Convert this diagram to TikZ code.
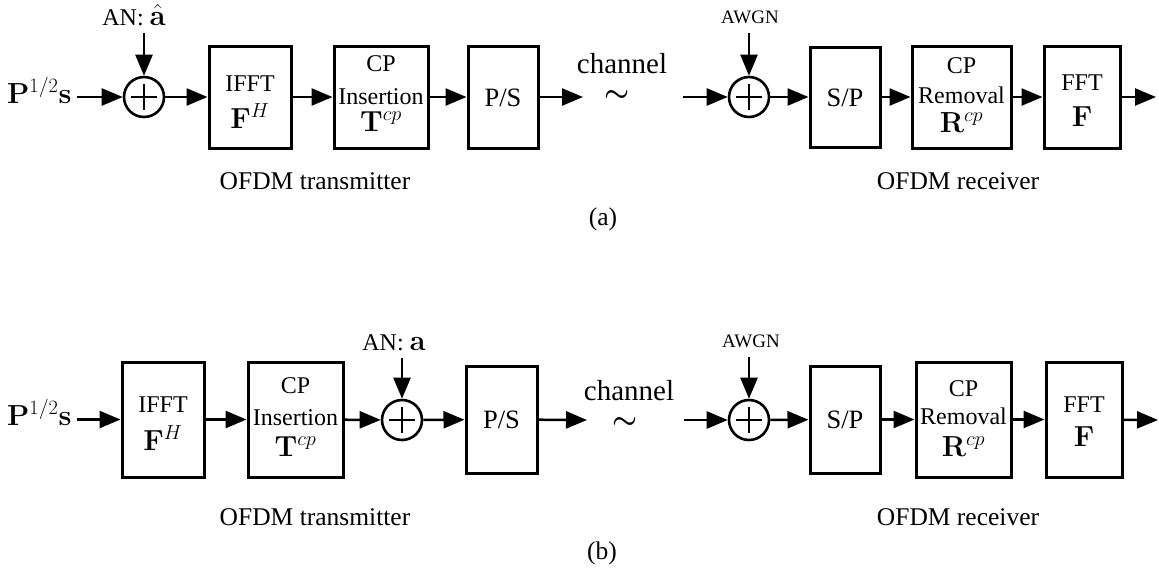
\RequirePackage{fix-cm}
\documentclass[tikz,border=0pt]{standalone}
\usepackage{amsmath}
\usepackage[no-math]{fontspec}
\setmainfont{Liberation Serif}
\usetikzlibrary{arrows.meta}
\tikzset{
  blk/.style={draw, line width=3pt, inner sep=0pt},
  arr/.style={line width=2.5pt, -{Triangle[length=21pt,width=17pt]}},
  sumnode/.style={draw, circle, line width=2.6pt, minimum size=40pt, inner sep=0pt,
    path picture={
      \draw[line width=2.6pt] ([xshift=-13pt]path picture bounding box.center) -- ([xshift=13pt]path picture bounding box.center);
      \draw[line width=2.6pt] ([yshift=-13pt]path picture bounding box.center) -- ([yshift=13pt]path picture bounding box.center);
    }},
  txt/.style={inner sep=0pt, anchor=base, font=\fontsize{24}{28}\selectfont},
  bigtxt/.style={inner sep=0pt, anchor=base, font=\fontsize{26.5}{30}\selectfont},
  lbl/.style={inner sep=0pt, anchor=base, font=\fontsize{25.5}{30}\selectfont},
  mth/.style={inner sep=0pt, anchor=base, font=\fontsize{29}{34}\selectfont},
  smalltxt/.style={inner sep=0pt, anchor=base, font=\fontsize{19}{22}\selectfont},
  chantxt/.style={inner sep=0pt, anchor=base, font=\fontsize{29}{34}\selectfont},
  tld/.style={inner sep=0pt, font=\fontsize{28}{32}\selectfont},
}
\begin{document}
\begin{tikzpicture}[x=1pt,y=-1pt]
\useasboundingbox (0,0) rectangle (1159,568);

% ================= (a) =================
\node[mth, anchor=base west] (inA) at (7,103) {$\mathbf{P}^{1/2}\mathbf{s}$};
\coordinate (inAe) at ([xshift=5pt]inA.east);
\node[sumnode] (sA1) at (144,97) {};
\node[txt] (anA) at (134,25) {AN: \fontsize{29}{34}\selectfont$\hat{\mathbf{a}}$};
\coordinate (anAc) at (144,33);

\node[blk, minimum width=82pt, minimum height=102pt] (ifftA) at (250,97) {};
\node[txt] (ifftAt) at (250,91) {IFFT};
\node[mth] (ifftAm) at (250,128) {$\mathbf{F}^{H}$};

\node[blk, minimum width=94pt, minimum height=102pt] (cpiA) at (381,97) {};
\node[txt] (cpiAt1) at (381,71) {CP};
\node[txt] (cpiAt2) at (381,104) {Insertion};
\node[mth] (cpiAm) at (381,131) {$\mathbf{T}^{cp}$};

\node[blk, minimum width=70pt, minimum height=102pt] (psA) at (503,97) {};
\node[bigtxt] (psAt) at (503,106) {P/S};

\coordinate (chAin) at (583,97);
\node[chantxt] (chA) at (622,73) {channel};
\node[tld] (tilA) at (617,96) {$\boldsymbol{\sim}$};
\coordinate (chAout) at (683,97);

\node[sumnode] (sA2) at (749,97) {};
\node[smalltxt] (awA) at (750,23) {AWGN};
\coordinate (awAc) at (749,33);

\node[blk, minimum width=70pt, minimum height=100pt] (spA) at (845,97) {};
\node[bigtxt] (spAt) at (845,106) {S/P};

\node[blk, minimum width=99pt, minimum height=102pt] (cprA) at (961.5,97) {};
\node[txt] (cprAt1) at (961.5,73) {CP};
\node[txt] (cprAt2) at (961.5,103) {Removal};
\node[mth] (cprAm) at (961.5,132) {$\mathbf{R}^{cp}$};

\node[blk, minimum width=76pt, minimum height=102pt] (fftA) at (1082,97) {};
\node[txt] (fftAt) at (1082,90) {FFT};
\node[mth] (fftAm) at (1082,126) {$\mathbf{F}$};
\coordinate (outA) at (1156,97);

\draw[arr] (inAe |- sA1) -- (sA1);
\draw[arr] (anAc) -- (sA1);
\draw[arr] (sA1) -- (ifftA);
\draw[arr] (ifftA) -- (cpiA);
\draw[arr] (cpiA) -- (psA);
\draw[arr] (psA) -- (chAin);
\draw[arr] (chAout) -- (sA2);
\draw[arr] (awAc) -- (sA2);
\draw[arr] (sA2) -- (spA);
\draw[arr] (spA) -- (cprA);
\draw[arr] (cprA) -- (fftA);
\draw[arr] (fftA) -- (outA);

\node[lbl] (txA) at (315,189) {OFDM transmitter};
\node[lbl] (rxA) at (958,189) {OFDM receiver};
\node[lbl] (capA) at (603,225) {(a)};

% ================= (b) =================
\node[mth, anchor=base west] (inB) at (7,425) {$\mathbf{P}^{1/2}\mathbf{s}$};
\coordinate (inBe) at ([xshift=5pt]inB.east);

\node[blk, minimum width=82pt, minimum height=115pt] (ifftB) at (163,419.5) {};
\node[txt] (ifftBt) at (163,412) {IFFT};
\node[mth] (ifftBm) at (163,450) {$\mathbf{F}^{H}$};

\node[blk, minimum width=95pt, minimum height=115pt] (cpiB) at (295.5,419.5) {};
\node[txt] (cpiBt1) at (295.5,393) {CP};
\node[txt] (cpiBt2) at (295.5,425) {Insertion};
\node[mth] (cpiBm) at (295.5,456) {$\mathbf{T}^{cp}$};

\node[sumnode] (sB1) at (402,420) {};
\node[txt] (anB) at (394,350) {AN: \fontsize{29}{34}\selectfont$\mathbf{a}$};
\coordinate (anBc) at (402,358);

\node[blk, minimum width=71pt, minimum height=107pt] (psB) at (501.5,419.5) {};
\node[bigtxt] (psBt) at (501.5,428) {P/S};

\coordinate (chBin) at (587,420);
\node[chantxt] (chB) at (629,400) {channel};
\node[tld] (tilB) at (625,423) {$\boldsymbol{\sim}$};
\coordinate (chBout) at (684,420);

\node[sumnode] (sB2) at (749,420) {};
\node[smalltxt] (awB) at (751,347) {AWGN};
\coordinate (awBc) at (749,357);

\node[blk, minimum width=70pt, minimum height=107pt] (spB) at (845,419.5) {};
\node[bigtxt] (spBt) at (845,428) {S/P};

\node[blk, minimum width=95pt, minimum height=115pt] (cprB) at (963.5,419.5) {};
\node[txt] (cprBt1) at (963.5,396) {CP};
\node[txt] (cprBt2) at (963.5,424) {Removal};
\node[mth] (cprBm) at (963.5,456) {$\mathbf{R}^{cp}$};

\node[blk, minimum width=76pt, minimum height=115pt] (fftB) at (1084,419.5) {};
\node[txt] (fftBt) at (1084,412) {FFT};
\node[mth] (fftBm) at (1084,446) {$\mathbf{F}$};
\coordinate (outB) at (1158,420);

\draw[arr] (inBe |- ifftB) -- (ifftB);
\draw[arr] (ifftB) -- (cpiB);
\draw[arr] (cpiB) -- (sB1);
\draw[arr] (anBc) -- (sB1);
\draw[arr] (sB1) -- (psB);
\draw[arr] (psB) -- (chBin);
\draw[arr] (chBout) -- (sB2);
\draw[arr] (awBc) -- (sB2);
\draw[arr] (sB2) -- (spB);
\draw[arr] (spB) -- (cprB);
\draw[arr] (cprB) -- (fftB);
\draw[arr] (fftB) -- (outB);

\node[lbl] (txB) at (315,525) {OFDM transmitter};
\node[lbl] (rxB) at (958,525) {OFDM receiver};
\node[lbl] (capB) at (602,559) {(b)};
\end{tikzpicture}
\end{document}
